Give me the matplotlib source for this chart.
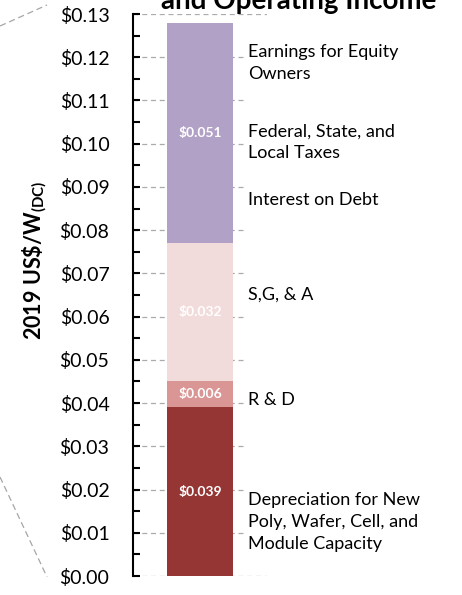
import matplotlib
matplotlib.use("Agg")
import matplotlib.pyplot as plt
from matplotlib.patches import Rectangle
from matplotlib.lines import Line2D
from matplotlib.ticker import MultipleLocator, FuncFormatter

plt.rcParams["font.family"] = ["Lato", "DejaVu Sans"]
plt.rcParams["mathtext.fontset"] = "custom"
plt.rcParams["mathtext.rm"] = "Lato"
plt.rcParams["mathtext.bf"] = "Lato:bold"

# Stacked components, bottom to top (2019 US$/W DC)
components = ["Depreciation", "R & D", "S,G, & A", "Operating income"]
values = [0.039, 0.006, 0.032, 0.051]
value_labels = ["$0.039", "$0.006", "$0.032", "$0.051"]
colors = ["#963634", "#D99694", "#F2DCDB", "#B2A1C7"]

# Descriptive labels shown to the right of the bar
side_labels = [
    "Earnings for Equity\nOwners",
    "Federal, State, and\nLocal Taxes",
    "Interest on Debt",
    "S,G, & A",
    "R & D",
    "Depreciation for New\nPoly, Wafer, Cell, and\nModule Capacity",
]
side_label_y = [0.1186, 0.1003, 0.0870, 0.0650, 0.0407, 0.0125]

W, H = 462, 595
fig = plt.figure(figsize=(W / 100, H / 100), dpi=100)
ax = fig.add_axes([133 / W, 1 - 576 / H, 134 / W, 562 / H])

bottom = 0.0
for v, lab, c in zip(values, value_labels, colors):
    ax.bar(0, v, width=0.49, bottom=bottom, color=c, zorder=3)
    ax.text(0, bottom + v / 2, lab, ha="center", va="center", color="white",
            fontsize=10, fontweight="bold", zorder=4)
    bottom += v

ax.set_xlim(-0.5, 0.5)
ax.set_ylim(0, 0.13)
ax.yaxis.set_major_locator(MultipleLocator(0.01))
ax.yaxis.set_minor_locator(MultipleLocator(0.005))
ax.yaxis.set_major_formatter(FuncFormatter(lambda v, p: f"${v:.2f}"))
ax.set_xticks([])
ax.tick_params(axis="y", which="both", direction="in", length=5, width=1.5,
               labelsize=14, pad=17)
for s in ["top", "right", "bottom"]:
    ax.spines[s].set_visible(False)
ax.spines["left"].set_linewidth(1.5)
ax.grid(axis="y", which="major", color="#ABABAB", linestyle=(0, (4, 3)),
        linewidth=0.9)
ax.set_axisbelow(True)

# White backing behind the side labels
ax.add_patch(Rectangle((0.836, 0.124), 0.5, -0.119, transform=ax.get_yaxis_transform(),
                       facecolor="white", edgecolor="none", zorder=1, clip_on=False))

for txt, y in zip(side_labels, side_label_y):
    ax.text(0.858, y, txt, transform=ax.get_yaxis_transform(), ha="left",
            va="center", fontsize=13, linespacing=1.45, clip_on=False, zorder=5)

fig.text(35 / W, 1 - 260 / H, r"2019 US\$/W$_{\mathbf{(DC)}}$", rotation=90,
         ha="center", va="center", fontsize=15.5, fontweight="bold")

fig.text(299 / W, 1 - 9 / H, "and Operating Income", ha="center",
         va="baseline", fontsize=20, fontweight="bold")

# Connector lines toward the neighbouring chart
for (x0, y0), (x1, y1) in [((0, 26), (47, 5)), ((0, 477), (47, 577))]:
    fig.add_artist(Line2D([x0 / W, x1 / W], [1 - y0 / H, 1 - y1 / H],
                          transform=fig.transFigure, color="#A6A6A6",
                          linestyle=(0, (5, 3)), linewidth=0.9))

fig.savefig("out.png", dpi=100)
